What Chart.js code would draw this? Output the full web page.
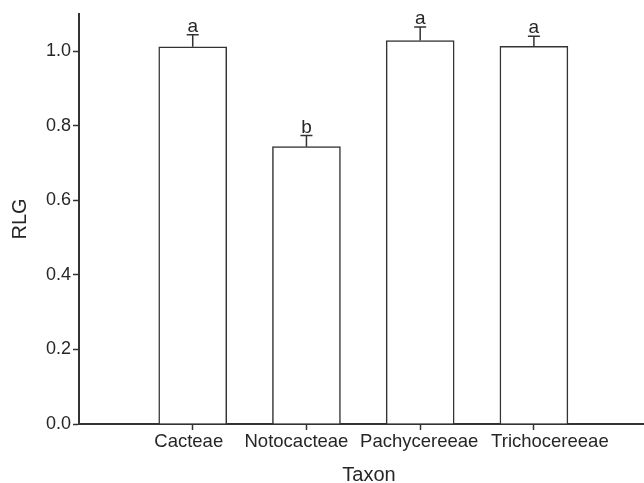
<!DOCTYPE html>
<html>
<head>
<meta charset="utf-8">
<script src="https://cdn.jsdelivr.net/npm/chart.js@4"></script>
<style>
  html, body { margin: 0; padding: 0; background: #fff; overflow: hidden; }
  #wrap { width: 660px; height: 483px; }
</style>
</head>
<body>
<div id="wrap"><canvas id="c" width="660" height="483"></canvas></div>
<script>
// Relative leaf growth (RLG) per taxon, mean and upper error
const taxa = ['Cacteae', 'Notocacteae', 'Pachycereeae', 'Trichocereeae'];
const rlg = [1.012, 0.744, 1.029, 1.013];
const rlgErr = [0.032, 0.030, 0.036, 0.027];
const groups = ['a', 'b', 'a', 'a'];
const yTicks = [0, 0.2, 0.4, 0.6, 0.8, 1.0];

const INK = '#333333';
const TEXT = '#262626';
const FONT = '"Liberation Sans", Arial, Helvetica, sans-serif';
// small horizontal nudges so the long taxon names do not collide
const labelNudge = [-4, -10, -1, 16];

// Error whiskers, significance letters and taxon labels
const errorBars = {
  id: 'errorBars',
  afterDatasetsDraw(chart) {
    const { ctx, scales: { x, y } } = chart;
    ctx.save();
    ctx.strokeStyle = INK;
    ctx.lineWidth = 1.5;
    ctx.fillStyle = TEXT;
    ctx.textAlign = 'center';
    taxa.forEach((t, i) => {
      const cx = x.getPixelForValue(i + 1);
      const yTop = y.getPixelForValue(rlg[i]);
      const yErr = y.getPixelForValue(rlg[i] + rlgErr[i]);
      ctx.beginPath();
      ctx.moveTo(cx, yTop);
      ctx.lineTo(cx, yErr);
      ctx.moveTo(cx - 6, yErr);
      ctx.lineTo(cx + 6, yErr);
      ctx.stroke();
      ctx.font = '19px ' + FONT;
      ctx.textBaseline = 'alphabetic';
      ctx.fillText(groups[i], cx, yErr - 3);
      ctx.font = '18.5px ' + FONT;
      ctx.textBaseline = 'top';
      ctx.fillText(t, cx + labelNudge[i], x.top + 9);
    });
    ctx.restore();
  }
};

new Chart(document.getElementById('c'), {
  type: 'bar',
  data: {
    datasets: [{
      data: taxa.map((t, i) => ({ x: i + 1, y: rlg[i] })),
      backgroundColor: '#ffffff',
      borderColor: INK,
      borderWidth: 1.5,
      barThickness: 68
    }]
  },
  options: {
    responsive: false,
    animation: false,
    events: [],
    layout: { padding: { top: 14, right: 1, left: 0, bottom: 0 } },
    plugins: { legend: { display: false }, tooltip: { enabled: false } },
    scales: {
      x: {
        type: 'linear',
        min: 0,
        max: 5.1,
        offset: false,
        afterFit(s) { s.height = 59; },
        afterBuildTicks(s) {
          s.ticks = taxa.map((t, i) => ({ value: i + 1 }));
        },
        ticks: { display: false },
        grid: {
          offset: false,
          drawOnChartArea: false,
          drawTicks: true,
          tickLength: 6,
          tickWidth: 1.5,
          tickColor: INK
        },
        border: { color: INK, width: 2 },
        title: {
          display: true,
          text: 'Taxon',
          color: TEXT,
          font: { family: FONT, size: 20, lineHeight: 1 },
          padding: { top: 0, bottom: -2 }
        }
      },
      y: {
        min: 0,
        max: 1.1,
        afterFit(s) { s.width = 79; },
        afterBuildTicks(s) {
          s.ticks = yTicks.map(v => ({ value: v }));
        },
        ticks: {
          padding: 2,
          color: TEXT,
          font: { family: FONT, size: 18 },
          callback: (v) => Number(v).toFixed(1)
        },
        grid: {
          drawOnChartArea: false,
          drawTicks: true,
          tickLength: 6,
          tickWidth: 1.5,
          tickColor: INK
        },
        border: { color: INK, width: 2 },
        title: {
          display: true,
          text: 'RLG',
          color: TEXT,
          font: { family: FONT, size: 20, lineHeight: 1.2 },
          padding: { top: 8, bottom: 0 }
        }
      }
    }
  },
  plugins: [errorBars]
});
</script>
</body>
</html>
